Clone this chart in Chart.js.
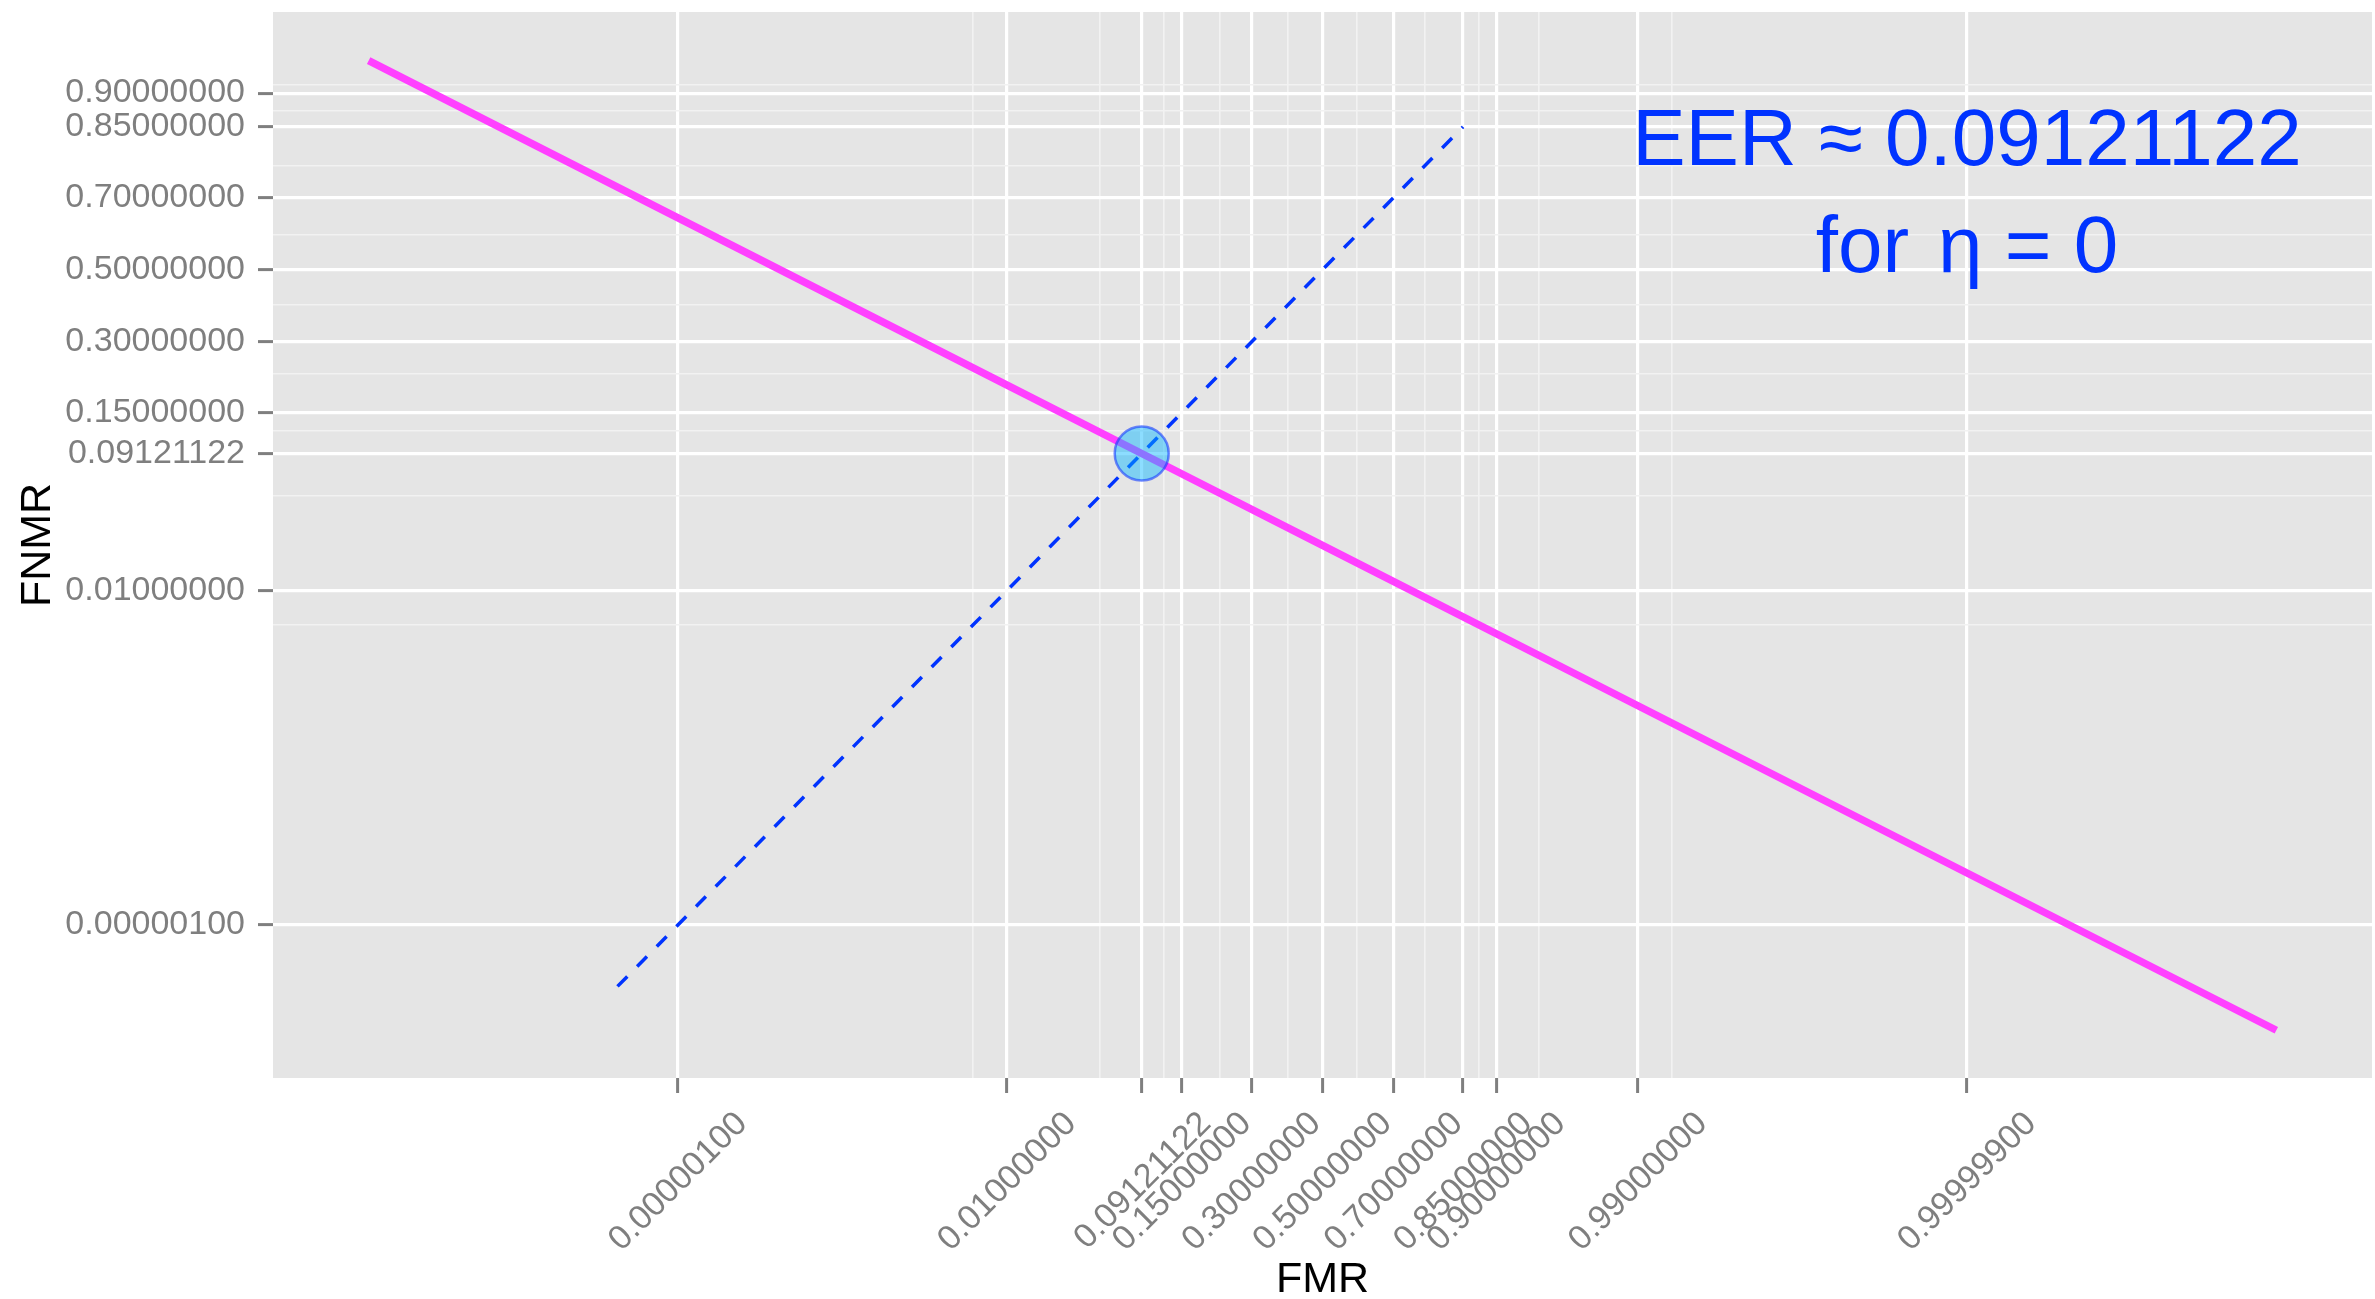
<!DOCTYPE html>
<html>
<head>
<meta charset="utf-8">
<script src="https://cdn.jsdelivr.net/npm/chart.js@4.4.1/dist/chart.umd.min.js"></script>
<style>
  html, body { margin: 0; padding: 0; background: #fff; }
  #wrap { width: 2375px; height: 1299px; }
</style>
</head>
<body>
<div id="wrap"><canvas id="detChart"></canvas></div>
<script>
// DET curve, both axes on a normal deviate (probit) scale

// DET curve (FMR vs FNMR)
const fmr = [1e-12, 0.000001, 0.01, 0.09121122, 0.5, 0.99, 0.999999, 0.999999999999];
const fnmr = [0.9354, 0.6468, 0.2014, 0.09121122, 0.02275, 0.00078, 0.00000603, 0.0000000172];

// FMR = FNMR diagonal (dashed)
const diag_fmr = [0.0000001, 0.85];
const diag_fnmr = [0.0000001, 0.85];

const eer = 0.09121122;

// axis breaks (probabilities)
const x_breaks = [0.000001, 0.01, 0.09121122, 0.15, 0.3, 0.5, 0.7, 0.85, 0.9, 0.99, 0.999999];
const x_minor = [0.005, 0.0506, 0.1206, 0.225, 0.4, 0.6, 0.775, 0.875, 0.945, 0.995];
const y_breaks = [0.000001, 0.01, 0.09121122, 0.15, 0.3, 0.5, 0.7, 0.85, 0.9];
const y_minor = [0.005, 0.0506, 0.1206, 0.225, 0.4, 0.6, 0.775, 0.875, 0.91];

const eer_label = ['EER \u2248 0.09121122', 'for \u200a\u03b7 = 0'];
const label_at = { fmr: 0.999999, fnmr: 0.7 };

// inverse normal cdf (Acklam)
function qnorm(p) {
  const a = [-3.969683028665376e+01, 2.209460984245205e+02, -2.759285104469687e+02, 1.383577518672690e+02, -3.066479806614716e+01, 2.506628277459239e+00];
  const b = [-5.447609879822406e+01, 1.615858368580409e+02, -1.556989798598866e+02, 6.680131188771972e+01, -1.328068155288572e+01];
  const c = [-7.784894002430293e-03, -3.223964580411365e-01, -2.400758277161838e+00, -2.549732539343734e+00, 4.374664141464968e+00, 2.938163982698783e+00];
  const d = [7.784695709041462e-03, 3.224671290700398e-01, 2.445134137142996e+00, 3.754408661907416e+00];
  const plow = 0.02425;
  let q, r;
  if (p < plow) {
    q = Math.sqrt(-2 * Math.log(p));
    return (((((c[0]*q + c[1])*q + c[2])*q + c[3])*q + c[4])*q + c[5]) / ((((d[0]*q + d[1])*q + d[2])*q + d[3])*q + 1);
  }
  if (p <= 1 - plow) {
    q = p - 0.5; r = q * q;
    return (((((a[0]*r + a[1])*r + a[2])*r + a[3])*r + a[4])*r + a[5])*q / (((((b[0]*r + b[1])*r + b[2])*r + b[3])*r + b[4])*r + 1);
  }
  q = Math.sqrt(-2 * Math.log(1 - p));
  return -(((((c[0]*q + c[1])*q + c[2])*q + c[3])*q + c[4])*q + c[5]) / ((((d[0]*q + d[1])*q + d[2])*q + d[3])*q + 1);
}

function toPoints(xs, ys) {
  return xs.map((p, i) => ({ x: qnorm(p), y: qnorm(ys[i]) }));
}

// minor first so major lines are drawn on top
function probitTicks(minor, major) {
  return minor.concat(major).map(p => ({ value: qnorm(p) }));
}

// keep the panel where ggplot put it, no label overflow padding
function noOverflow(s) {
  s.paddingTop = 0;
  s.paddingBottom = 0;
  s.paddingLeft = 0;
  s.paddingRight = 0;
}

const FONT = 'Liberation Sans';

function gridFor(minor) {
  return {
    color: ctx => ctx.index >= minor.length ? '#FFFFFF' : '#F2F2F2',
    lineWidth: ctx => ctx.index >= minor.length ? 3.2 : 1.6,
    tickColor: ctx => ctx.index >= minor.length ? '#7F7F7F' : 'rgba(0,0,0,0)',
    tickWidth: 3,
    tickLength: 15,
    drawTicks: true
  };
}

const panel_bg = {
  id: 'panel_bg',
  beforeDraw(chart) {
    const { ctx, chartArea: a } = chart;
    ctx.save();
    ctx.fillStyle = '#E5E5E5';
    ctx.fillRect(a.left, a.top, a.right - a.left, a.bottom - a.top);
    ctx.restore();
  }
};

const annotation = {
  id: 'annotation',
  afterDatasetsDraw(chart) {
    const { ctx, scales: { x, y } } = chart;
    const px = x.getPixelForValue(qnorm(label_at.fmr));
    const py = y.getPixelForValue(qnorm(label_at.fnmr));
    ctx.save();
    ctx.fillStyle = '#0033FF';
    ctx.font = '80px "' + FONT + '"';
    ctx.textAlign = 'center';
    ctx.textBaseline = 'alphabetic';
    ctx.fillText(eer_label[0], px, py - 32);
    ctx.fillText(eer_label[1], px, py + 75);
    ctx.restore();
  }
};

const det = document.getElementById('detChart');
const ctx_det = det.getContext('2d');

const det_chart = new Chart(ctx_det, {
  type: 'scatter',
  data: {
    datasets: [
      {
        label: 'EER',
        data: toPoints([eer], [eer]),
        pointRadius: 27,
        pointBackgroundColor: 'rgba(0, 180, 255, 0.45)',
        pointBorderColor: 'rgba(20, 60, 255, 0.6)',
        pointBorderWidth: 2.5,
        showLine: false
      },
      {
        label: 'DET',
        data: toPoints(fmr, fnmr),
        borderColor: '#FF40FF',
        borderWidth: 7.5,
        pointRadius: 0,
        showLine: true,
        fill: false
      },
      {
        label: 'FMR = FNMR',
        data: toPoints(diag_fmr, diag_fnmr),
        borderColor: '#0033FF',
        borderWidth: 3.5,
        borderDash: [14, 14],
        pointRadius: 0,
        showLine: true,
        fill: false
      }
    ]
  },
  options: {
    responsive: true,
    maintainAspectRatio: false,
    animation: false,
    events: [],
    layout: { autoPadding: false, padding: { top: 12, right: 3, left: 0, bottom: 0 } },
    plugins: {
      legend: { display: false },
      tooltip: { enabled: false }
    },
    scales: {
      x: {
        type: 'linear',
        min: -7.74,
        max: 7.74,
        bounds: 'data',
        afterBuildTicks: s => { s.ticks = probitTicks(x_minor, x_breaks); },
        afterFit: s => { s.height = 221; noOverflow(s); },
        grid: gridFor(x_minor),
        border: { display: false },
        ticks: {
          autoSkip: false,
          minRotation: 45,
          maxRotation: 45,
          labelOffset: 64,
          padding: 11,
          color: '#7F7F7F',
          font: { family: FONT, size: 34 },
          callback: (value, index) => index >= x_minor.length ? x_breaks[index - x_minor.length].toFixed(8) : ''
        },
        title: {
          display: true,
          text: 'FMR',
          color: '#000000',
          font: { family: FONT, size: 43, lineHeight: 0.9 },
          padding: 0
        }
      },
      y: {
        type: 'linear',
        min: -5.864,
        max: 1.870,
        bounds: 'data',
        afterBuildTicks: s => { s.ticks = probitTicks(y_minor, y_breaks); },
        afterFit: s => { s.width = 273; noOverflow(s); },
        grid: gridFor(y_minor),
        border: { display: false },
        ticks: {
          autoSkip: false,
          padding: 13,
          color: '#7F7F7F',
          font: { family: FONT, size: 34 },
          callback: (value, index) => index >= y_minor.length ? y_breaks[index - y_minor.length].toFixed(8) : ''
        },
        title: {
          display: true,
          text: 'FNMR',
          color: '#000000',
          font: { family: FONT, size: 43, lineHeight: 1.2 },
          padding: { top: 12, bottom: 0 }
        }
      }
    }
  },
  plugins: [panel_bg, annotation]
});
</script>
</body>
</html>
